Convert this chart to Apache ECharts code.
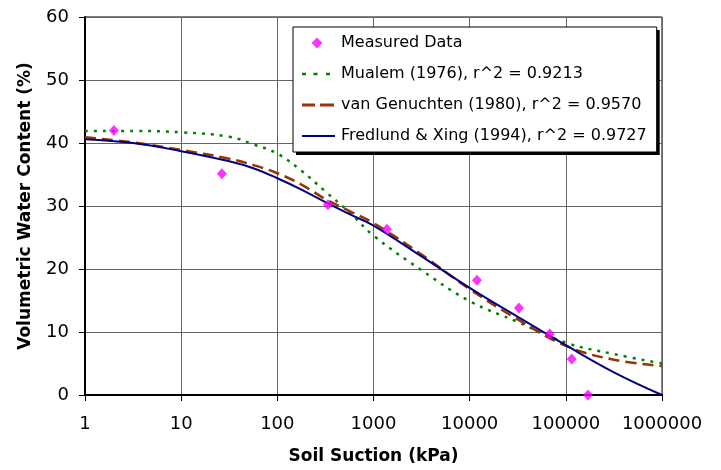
<!DOCTYPE html>
<html>
<head>
<meta charset="utf-8">
<script src="https://cdn.jsdelivr.net/npm/echarts@6/dist/echarts.min.js"></script>
<style>
html,body{margin:0;padding:0;background:#fff;}
#chart{width:721px;height:470px;}
</style>
</head>
<body>
<div id="chart"></div>
<script>
// Measured data: suction (kPa), water content (%)
var measuredSuction = [2, 26.5, 336, 1380, 11900, 32500, 68000, 115000, 170000];
var measuredWater   = [42.0, 35.1, 30.2, 26.3, 18.2, 13.8, 9.7, 5.7, 0.0];

// Curve sample suctions (kPa)
var curveSuction = [1, 3.16, 10, 31.6, 56.2, 100, 178, 316, 562, 1000, 3162, 10000, 31623, 100000, 316228, 1000000];
var mualem       = [41.9, 41.9, 41.7, 41.0, 39.8, 38.3, 35.6, 32.3, 29.0, 25.3, 19.8, 14.9, 11.6, 8.3, 6.5, 5.0];
var vanGenuchten = [40.9, 40.1, 38.9, 37.5, 36.5, 35.2, 33.4, 31.1, 29.2, 27.3, 22.3, 16.8, 12.0, 7.8, 5.6, 4.6];
var fredlundXing = [40.6, 40.0, 38.7, 37.1, 36.0, 34.4, 32.6, 30.6, 28.7, 26.9, 22.0, 17.0, 12.4, 7.9, 3.6, 0.0];

var seriesNames = [
  'Measured Data',
  'Mualem (1976), r^2 = 0.9213',
  'van Genuchten (1980), r^2 = 0.9570',
  'Fredlund & Xing (1994), r^2 = 0.9727'
];
var xTicks = [1, 10, 100, 1000, 10000, 100000, 1000000];

function pairs(xs, ys){ return xs.map(function(x,i){ return [x, ys[i]]; }); }

// legend icons (34 x 16 box, corner anchors keep the box size)
var box = 'M0,0 L0,0 M34,16 L34,16 ';
var iconDiamond = 'path://' + box + 'M15,2.5 L20.5,8 L15,13.5 L9.5,8 Z';
var iconDots    = 'path://' + box + 'M0,6.8 L4,6.8 L4,9.2 L0,9.2 Z M11.5,6.8 L15.5,6.8 L15.5,9.2 L11.5,9.2 Z M24,6.8 L28,6.8 L28,9.2 L24,9.2 Z';
var iconDash    = 'path://' + box + 'M0,6.5 L13,6.5 L13,9.5 L0,9.5 Z M18,6.5 L32,6.5 L32,9.5 L18,9.5 Z';
var iconSolid   = 'path://' + box + 'M0,7 L33,7 L33,9 L0,9 Z';
var icons = [iconDiamond, iconDots, iconDash, iconSolid];

var font = '"DejaVu Sans", sans-serif';

var legendBase = {
  orient: 'vertical', left: 293, top: 27,
  padding: [8, 10, 8, 9],
  itemWidth: 34, itemHeight: 16, itemGap: 15
};
// shadowed, borderless legend with content
var legendMain = Object.assign({}, legendBase, {
  data: seriesNames.map(function(n, i){ return {name: n, icon: icons[i], itemStyle: {borderWidth: 0}}; }),
  backgroundColor: '#fff', borderWidth: 0,
  shadowColor: '#000', shadowOffsetX: 3, shadowOffsetY: 3, shadowBlur: 0,
  textStyle: {fontFamily: font, fontSize: 16, color: '#000'}, z: 4
});
// same frame again, only its border (no shadow on the border)
var legendFrame = Object.assign({}, legendBase, {
  data: seriesNames.map(function(n, i){ return {name: n, icon: icons[i], itemStyle: {opacity: 0, borderWidth: 0}}; }),
  backgroundColor: 'transparent', borderColor: '#000', borderWidth: 1,
  textStyle: {fontFamily: font, fontSize: 16, color: 'rgba(0,0,0,0)'}, z: 5
});

var chart = echarts.init(document.getElementById('chart'), null, {renderer:'canvas'});
chart.setOption({
  animation: false,
  backgroundColor: '#ffffff',
  grid: {left: 85, right: 59, top: 17, bottom: 74, show: true, borderColor: '#000', borderWidth: 1},
  xAxis: {
    type: 'log', logBase: 10, min: 1, max: 1000000,
    name: 'Soil Suction (kPa)', nameLocation: 'middle', nameGap: 53,
    nameTextStyle: {fontFamily: font, fontSize: 17, fontWeight: 'bold', color: '#000'},
    axisLine: {show: true, lineStyle: {color: '#000', width: 2}},
    axisTick: {show: true, length: 6, lineStyle: {color: '#000'}},
    axisLabel: {fontFamily: font, fontSize: 18, color: '#000', margin: 20,
      formatter: function(v){ return xTicks.indexOf(Math.round(v)) >= 0 ? String(Math.round(v)) : ''; }},
    splitLine: {show: true, lineStyle: {color: '#666', width: 1}},
    minorTick: {show: false}
  },
  yAxis: {
    type: 'value', min: 0, max: 60, interval: 10,
    name: 'Volumetric Water Content (%)', nameLocation: 'middle', nameGap: 51,
    nameTextStyle: {fontFamily: font, fontSize: 17, fontWeight: 'bold', color: '#000'},
    axisLine: {show: true, lineStyle: {color: '#000', width: 2}},
    axisTick: {show: true, length: 6, lineStyle: {color: '#000'}},
    axisLabel: {fontFamily: font, fontSize: 18, color: '#000', margin: 16},
    splitLine: {show: true, lineStyle: {color: '#666', width: 1}}
  },
  legend: [legendMain, legendFrame],
  series: [
    {name: seriesNames[0], type: 'scatter', data: pairs(measuredSuction, measuredWater),
     symbol: 'diamond', symbolSize: [10, 11], itemStyle: {color: '#FF00FF'}, z: 5},
    {name: seriesNames[1], type: 'line', data: pairs(curveSuction, mualem), smooth: 0.4,
     showSymbol: false, symbol: 'none', lineStyle: {color: '#008000', width: 2.5, type: [3, 6]}, itemStyle: {color: '#008000'}},
    {name: seriesNames[2], type: 'line', data: pairs(curveSuction, vanGenuchten), smooth: 0.4,
     showSymbol: false, symbol: 'none', lineStyle: {color: '#993300', width: 2.5, type: [11, 6]}, itemStyle: {color: '#993300'}},
    {name: seriesNames[3], type: 'line', data: pairs(curveSuction, fredlundXing), smooth: 0.4,
     showSymbol: false, symbol: 'none', lineStyle: {color: '#000080', width: 2}, itemStyle: {color: '#000080'}}
  ]
});
</script>
</body>
</html>
